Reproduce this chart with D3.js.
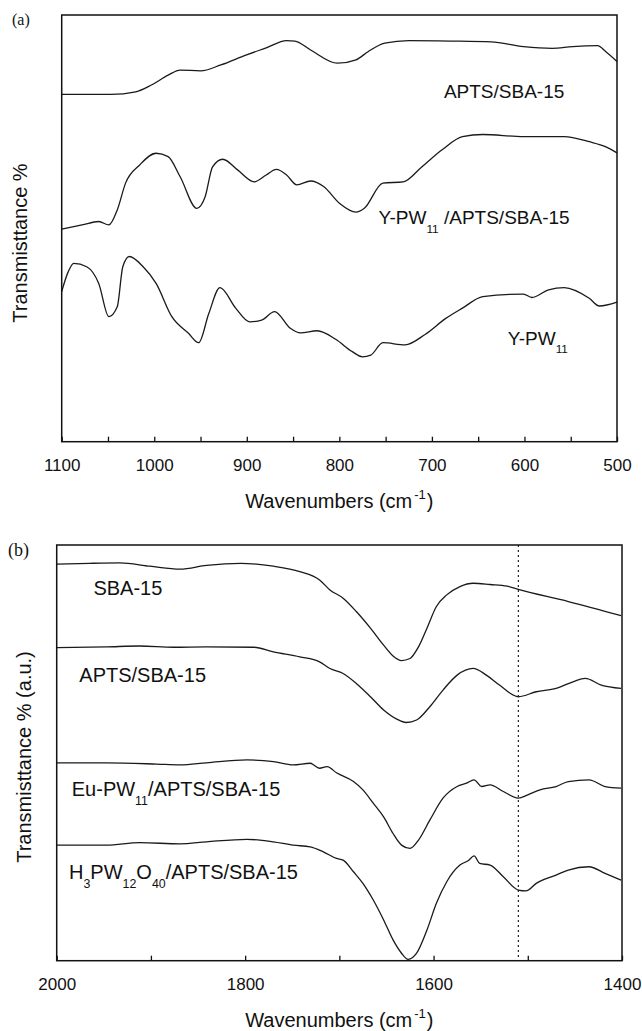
<!DOCTYPE html>
<html>
<head>
<meta charset="utf-8">
<script src="https://cdn.jsdelivr.net/npm/d3@7"></script>
<style>
  body { margin: 0; background: #fff; }
  svg { display: block; font-family: "Liberation Sans", Arial, sans-serif; }
  .frame { fill: none; stroke: #111; stroke-width: 1.5; }
  .spec { fill: none; stroke: #1a1a1a; stroke-width: 1.3; }
  .axis path { display: none; }
  .axis line { stroke: #111; stroke-width: 1.3; }
  .axis text { font-size: 17px; fill: #111; font-family: "Liberation Sans", Arial, sans-serif; }
</style>
</head>
<body>
<div id="chart"></div>
<script>
// ---- panel (a): wavenumber (cm-1), transmittance (a.u.) ----
let aTicks = [1100, 1050, 1000, 950, 900, 850, 800, 750, 700, 650, 600, 550, 500];
let aLabels = [1100, 1000, 900, 800, 700, 600, 500];

let aAptsWn = [1100, 1047, 1020, 1003, 985, 972, 950, 928, 901, 879, 857, 848, 831, 802, 782, 769, 751, 725, 680, 636, 601, 570, 548, 521, 512, 500];
let aAptsT = [81.4, 81.4, 82.0, 83.6, 85.9, 87.1, 86.9, 88.3, 90.6, 92.3, 94.0, 93.9, 91.8, 88.7, 89.5, 91.4, 93.4, 94.0, 93.9, 93.7, 92.6, 92.2, 92.6, 92.8, 91.4, 89.1];

let aYpwAptsWn = [1100, 1078, 1060, 1049, 1040, 1031, 1016, 998, 985, 972, 954, 945, 937, 926, 910, 892, 879, 868, 857, 846, 831, 817, 800, 782, 773, 753, 731, 711, 689, 667, 645, 601, 557, 530, 512, 500];
let aYpwAptsT = [49.8, 50.8, 51.6, 50.8, 54.3, 60.6, 64.8, 67.6, 66.8, 62.1, 54.7, 57.4, 64.4, 66.2, 63.7, 60.9, 62.5, 63.8, 62.5, 60.2, 61.1, 59.8, 55.9, 53.8, 54.7, 60.6, 60.9, 64.4, 68.4, 71.5, 72.0, 71.5, 71.5, 70.3, 69.1, 67.7];

let aYpwWn = [1100, 1093, 1087, 1073, 1060, 1049, 1040, 1034, 1027, 1012, 998, 981, 963, 952, 941, 929, 912, 897, 884, 870, 853, 842, 824, 804, 786, 775, 766, 753, 729, 707, 685, 667, 645, 601, 592, 574, 557, 530, 519, 500];
let aYpwT = [35.2, 39.8, 41.8, 41.0, 37.1, 29.3, 31.6, 41.0, 43.4, 41.0, 37.1, 29.3, 25.4, 23.2, 30.1, 36.1, 31.3, 28.1, 28.5, 30.5, 26.6, 25.5, 26.0, 24.0, 21.1, 19.9, 20.3, 23.2, 22.7, 25.2, 28.9, 31.3, 34.0, 34.6, 33.8, 35.6, 36.1, 33.6, 31.8, 32.7];

// ---- panel (b) ----
let bTicks = [2000, 1900, 1800, 1700, 1600, 1500, 1400];
let bLabels = [2000, 1800, 1600, 1400];
let bMarker = 1510;

let bSbaWn = [2000, 1965, 1933, 1901, 1869, 1841, 1805, 1770, 1742, 1721, 1710, 1696, 1682, 1667, 1653, 1643, 1634, 1625, 1616, 1607, 1597, 1586, 1572, 1558, 1540, 1522, 1510, 1457, 1401];
let bSbaT = [95.4, 95.6, 95.7, 94.9, 94.2, 95.1, 95.6, 94.9, 93.6, 91.6, 89.2, 87.2, 84.0, 80.0, 75.9, 73.3, 72.2, 72.7, 75.5, 80.0, 85.2, 88.0, 90.0, 90.8, 90.5, 90.1, 89.3, 86.4, 83.0];

let bAptsWn = [2000, 1947, 1912, 1876, 1841, 1791, 1770, 1742, 1721, 1710, 1696, 1682, 1667, 1653, 1639, 1629, 1618, 1604, 1590, 1575, 1558, 1544, 1530, 1510, 1491, 1470, 1452, 1439, 1422, 1401];
let bAptsT = [75.3, 75.5, 75.7, 75.4, 75.5, 75.4, 74.3, 73.1, 71.9, 70.3, 69.1, 66.7, 63.5, 60.3, 58.1, 57.3, 57.9, 61.1, 65.1, 68.7, 70.3, 68.7, 66.3, 63.5, 64.7, 65.5, 67.1, 67.9, 66.3, 65.5];

let bEuWn = [2000, 1947, 1894, 1869, 1841, 1798, 1770, 1749, 1731, 1721, 1713, 1703, 1685, 1675, 1664, 1653, 1643, 1634, 1625, 1616, 1604, 1590, 1575, 1565, 1557, 1549, 1540, 1526, 1510, 1500, 1487, 1470, 1457, 1435, 1418, 1401];
let bEuT = [47.6, 47.6, 47.3, 47.1, 47.6, 48.3, 47.9, 47.1, 47.5, 46.3, 46.7, 45.2, 43.1, 41.1, 37.9, 34.6, 30.6, 27.8, 27.0, 29.0, 33.8, 39.1, 41.9, 42.7, 43.5, 41.9, 42.3, 40.7, 39.1, 39.9, 41.1, 41.9, 43.1, 43.5, 41.9, 41.5];

let bH3Wn = [2000, 1947, 1912, 1869, 1841, 1798, 1770, 1749, 1731, 1717, 1703, 1696, 1685, 1675, 1664, 1653, 1643, 1634, 1627, 1618, 1607, 1597, 1586, 1572, 1563, 1557, 1551, 1540, 1526, 1510, 1502, 1491, 1470, 1457, 1435, 1418, 1401];
let bH3T = [27.8, 27.8, 28.4, 28.1, 28.6, 29.2, 28.6, 27.8, 27.4, 26.2, 24.6, 24.2, 21.4, 18.6, 14.6, 9.8, 5.0, 1.8, 0.3, 1.8, 7.4, 13.8, 19.0, 23.0, 24.1, 25.2, 23.4, 23.0, 20.2, 17.0, 16.8, 18.6, 20.6, 21.8, 22.6, 21.0, 19.4];

let width = 642, height = 1031;

let svg = d3.select("#chart").append("svg")
  .attr("width", width)
  .attr("height", height);

function zip(wn, t) {
  return wn.map((w, i) => ({ w: w, t: t[i] }));
}

// text with sub/superscripts: parts = [[text, shift]] where shift 0 normal, 1 sub
function richText(g, x, y, size, parts) {
  let txt = g.append("text").attr("x", x).attr("y", y)
    .style("font-size", size + "px").attr("fill", "#111");
  let cur = 0;
  parts.forEach((p) => {
    let target = p[1] === 1 ? size * 0.45 : 0;
    txt.append("tspan")
      .attr("dy", target - cur)
      .style("font-size", p[1] === 1 ? size * 0.62 + "px" : size + "px")
      .text(p[0]);
    cur = target;
  });
  return txt;
}

function panel(opts) {
  let x = d3.scaleLinear().domain(opts.xDomain).range([opts.left, opts.right]);
  let y = d3.scaleLinear().domain([0, 100]).range([opts.bottom, opts.top]);
  let g = svg.append("g");

  let line = d3.line()
    .x((d) => x(d.w))
    .y((d) => y(d.t))
    .curve(d3.curveMonotoneX);

  opts.series.forEach((s) => {
    g.append("path").datum(zip(s[0], s[1])).attr("class", "spec").attr("d", line);
  });

  if (opts.marker) {
    g.append("line")
      .attr("x1", x(opts.marker)).attr("x2", x(opts.marker))
      .attr("y1", opts.top).attr("y2", opts.bottom)
      .attr("stroke", "#222").attr("stroke-width", 1.2)
      .attr("stroke-dasharray", "2,3");
  }

  let xAxis = d3.axisBottom(x)
    .tickValues(opts.ticks)
    .tickSize(-5)
    .tickPadding(17)
    .tickFormat((d) => (opts.labels.indexOf(d) >= 0 ? d : ""));

  g.append("g").attr("class", "axis")
    .attr("transform", "translate(0," + opts.bottom + ")")
    .call(xAxis);

  g.append("rect").attr("class", "frame")
    .attr("x", opts.left).attr("y", opts.top)
    .attr("width", opts.right - opts.left)
    .attr("height", opts.bottom - opts.top);

  // x title
  let xt = g.append("text")
    .attr("x", (opts.left + opts.right) / 2)
    .attr("y", opts.bottom + 66)
    .attr("text-anchor", "middle")
    .style("font-size", "20px").attr("fill", "#111");
  xt.append("tspan").text("Wavenumbers (cm");
  xt.append("tspan").attr("dy", -9).attr("dx", 2).style("font-size", "13px").text("-1");
  xt.append("tspan").attr("dy", 9).attr("dx", 1).text(")");

  // y title
  g.append("text")
    .attr("transform", "translate(" + opts.yTitleX + "," + opts.yTitleY + ") rotate(-90)")
    .attr("text-anchor", "middle")
    .style("font-size", "20px").attr("fill", "#111")
    .text(opts.yTitle);

  // panel letter
  g.append("text")
    .attr("x", opts.tagX).attr("y", opts.tagY)
    .style("font-family", "'Liberation Serif', 'Times New Roman', serif")
    .style("font-size", opts.tagSize + "px").attr("fill", "#111")
    .text(opts.tag);

  opts.names.forEach((n) => {
    richText(g, x(n.w), y(n.t), opts.nameSize, n.parts);
  });
}

panel({
  xDomain: [1100, 500], left: 61.7, right: 617, top: 15, bottom: 441.7,
  ticks: aTicks, labels: aLabels,
  series: [[aAptsWn, aAptsT], [aYpwAptsWn, aYpwAptsT], [aYpwWn, aYpwT]],
  yTitle: "Transmisttance %", yTitleX: 27, yTitleY: 243,
  tag: "(a)", tagX: 12, tagY: 25, tagSize: 16,
  nameSize: 19,
  names: [
    { w: 687, t: 80.5, parts: [["APTS/SBA-15", 0]] },
    { w: 757.6, t: 51.0, parts: [["Y-PW", 0], ["11", 1], [" /APTS/SBA-15", 0]] },
    { w: 618, t: 22.7, parts: [["Y-PW", 0], ["11", 1]] }
  ]
});

panel({
  xDomain: [2000, 1400], left: 56.7, right: 622, top: 545, bottom: 960.7,
  ticks: bTicks, labels: bLabels, marker: bMarker,
  series: [[bSbaWn, bSbaT], [bAptsWn, bAptsT], [bEuWn, bEuT], [bH3Wn, bH3T]],
  yTitle: "Transmisttance % (a.u.)", yTitleX: 31, yTitleY: 757,
  tag: "(b)", tagX: 8, tagY: 556, tagSize: 18,
  nameSize: 20,
  names: [
    { w: 1961, t: 88.0, parts: [["SBA-15", 0]] },
    { w: 1976, t: 67.1, parts: [["APTS/SBA-15", 0]] },
    { w: 1984, t: 39.5, parts: [["Eu-PW", 0], ["11", 1], ["/APTS/SBA-15", 0]] },
    { w: 1987, t: 19.6, parts: [["H", 0], ["3", 1], ["PW", 0], ["12", 1], ["O", 0], ["40", 1], ["/APTS/SBA-15", 0]] }
  ]
});
</script>
</body>
</html>
